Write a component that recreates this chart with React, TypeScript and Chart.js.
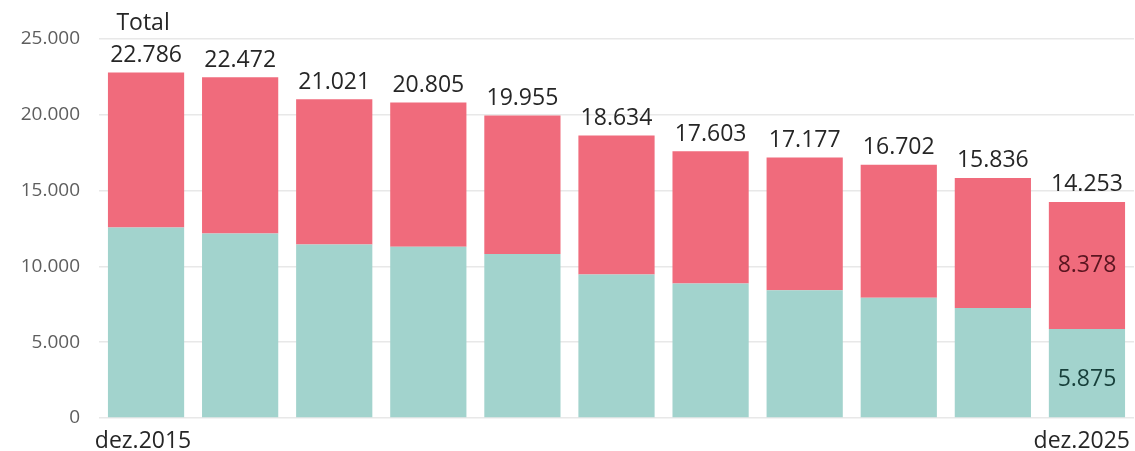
import React, { useEffect, useRef } from "react";
import { Chart, registerables } from "chart.js";

Chart.register(...registerables);

const categories = [
  "dez.2015", "dez.2016", "dez.2017", "dez.2018", "dez.2019", "dez.2020",
  "dez.2021", "dez.2022", "dez.2023", "dez.2024", "dez.2025",
];
const totals = [22786, 22472, 21021, 20805, 19955, 18634, 17603, 17177, 16702, 15836, 14253];
const tealValues = [12566, 12170, 11446, 11288, 10826, 9470, 8877, 8435, 7928, 7249, 5875];
const redValues = totals.map((t, i) => t - tealValues[i]);
const yTicks = [0, 5000, 10000, 15000, 20000, 25000];
const totalLabel = "Total";

const fmt = (v: number) => String(v).replace(/\B(?=(\d{3})+(?!\d))/g, ".");

const FONT = "'Open Sans', 'Noto Sans', sans-serif";

const labelsPlugin = {
  id: "labelsPlugin",
  afterDatasetsDraw(chart: any) {
    const ctx = chart.ctx;
    const meta0 = chart.getDatasetMeta(0);
    const meta1 = chart.getDatasetMeta(1);
    const yScale = chart.scales.y;
    ctx.save();
    ctx.textAlign = "center";
    ctx.textBaseline = "middle";
    ctx.font = `23px ${FONT}`;
    ctx.fillStyle = "#262626";
    totals.forEach((t, i) => {
      const x = meta1.data[i].x;
      const yTop = yScale.getPixelForValue(t);
      ctx.fillText(fmt(t), x, yTop - 17);
      if (i === 0) ctx.fillText(totalLabel, x - 3, yTop - 49);
    });
    const last = totals.length - 1;
    const xl = meta1.data[last].x;
    const y0 = yScale.getPixelForValue(0);
    const yT = yScale.getPixelForValue(tealValues[last]);
    const yR = yScale.getPixelForValue(totals[last]);
    ctx.fillStyle = "#5a1520";
    ctx.fillText(fmt(redValues[last]), xl, (yT + yR) / 2);
    ctx.fillStyle = "#173f3a";
    ctx.fillText(fmt(tealValues[last]), xl, (y0 + yT) / 2 + 6);
    // x labels: first and last
    ctx.fillStyle = "#262626";
    const yl = y0 + 23;
    ctx.fillText(categories[0], meta0.data[0].x - 3, yl);
    const w = ctx.measureText(categories[last]).width;
    const xr = Math.min(xl, chart.width - 5 - w / 2);
    ctx.fillText(categories[last], xr, yl);
    ctx.restore();
  },
};

export default function App() {
  const ref = useRef<HTMLCanvasElement>(null);
  useEffect(() => {
    if (!ref.current) return;
    const chart = new Chart(ref.current, {
      type: "bar",
      data: {
        labels: categories,
        datasets: [
          {
            label: "teal",
            data: tealValues,
            backgroundColor: "#a2d3cd",
            barPercentage: 0.81,
            categoryPercentage: 1,
          },
          {
            label: "red",
            data: redValues,
            backgroundColor: "#f06b7c",
            barPercentage: 0.81,
            categoryPercentage: 1,
          },
        ],
      },
      options: {
        animation: false,
        responsive: false,
        maintainAspectRatio: false,
        layout: { padding: { top: 39, bottom: 33, right: 1, left: 0 } },
        plugins: { legend: { display: false }, tooltip: { enabled: false } },
        scales: {
          x: {
            stacked: true,
            grid: { display: false, drawTicks: false },
            border: { display: false },
            ticks: { display: false },
          },
          y: {
            stacked: true,
            min: 0,
            max: 25000,
            afterBuildTicks: (s: any) => {
              s.ticks = yTicks.map((v) => ({ value: v }));
            },
            afterFit: (s: any) => {
              s.width = 99;
            },
            grid: { color: "#e8e8e8", drawTicks: false, lineWidth: 1.5 },
            border: { display: false },
            ticks: {
              padding: 19,
              color: "#5e5e5e",
              font: { family: FONT, size: 19 },
              callback: (v: any) => fmt(Number(v)),
            },
          },
        },
      },
      plugins: [labelsPlugin],
    });
    return () => chart.destroy();
  }, []);
  return (
    <div style={{ position: "absolute", left: 0, top: 0, width: 1135, height: 451 }}>
      <canvas ref={ref} width={1135} height={451} style={{ display: "block" }} />
    </div>
  );
}
